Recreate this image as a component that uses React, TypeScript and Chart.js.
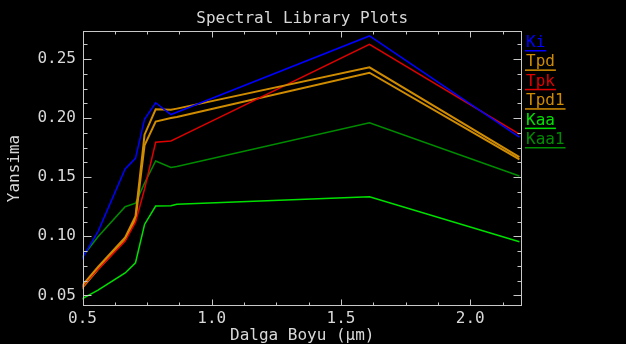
import React, { useEffect, useRef } from 'react';
import { Chart, registerables } from 'chart.js';

Chart.register(...registerables);

// ---- data ----
const wavelengths = [0.49, 0.56, 0.665, 0.705, 0.74, 0.783, 0.842, 0.865, 1.61, 2.19];
const seriesNames = ['Ki', 'Tpd', 'Tpk', 'Tpd1', 'Kaa', 'Kaa1'];
const kiValues = [0.078, 0.104, 0.157, 0.166, 0.199, 0.213, 0.203, 0.205, 0.2695, 0.184];
const tpdValues = [0.056, 0.074, 0.099, 0.117, 0.186, 0.2075, 0.207, 0.208, 0.243, 0.167];
const tpkValues = [0.055, 0.072, 0.096, 0.112, 0.14, 0.1795, 0.1806, 0.183, 0.2624, 0.1865];
const tpd1Values = [0.054, 0.072, 0.097, 0.114, 0.177, 0.197, 0.2, 0.201, 0.2384, 0.165];
const kaaValues = [0.046, 0.0545, 0.069, 0.0776, 0.11, 0.1256, 0.1258, 0.127, 0.1335, 0.0954];
const kaa1Values = [0.08, 0.0996, 0.125, 0.128, 0.145, 0.1637, 0.1583, 0.159, 0.196, 0.151];
const seriesValues = [kiValues, tpdValues, tpkValues, tpd1Values, kaaValues, kaa1Values];
const seriesColors = ['#0000ff', '#d08c00', '#e00000', '#d08c00', '#00e000', '#008c00'];
const xTickValues = [0.5, 1.0, 1.5, 2.0];
const yTickValues = [0.05, 0.1, 0.15, 0.2, 0.25];
const titleText = 'Spectral Library Plots';
const xTitle = 'Dalga Boyu (\u03bcm)';
const yTitle = 'Yansima';

// ---- style ----
const W = 626;
const H = 344;
const FONT = '"DejaVu Sans Mono", monospace';
const TEXT = '#d8d8d8';
const AXIS = '#c8c8c8';

const framePlugin = {
  id: 'idlFrame',
  afterDatasetsDraw(chart: any) {
    const { ctx, chartArea: a, scales } = chart;
    const x = scales.x;
    const y = scales.y;
    const L = Math.round(a.left) + 0.5;
    const R = Math.round(a.right) - 0.5;
    const T = Math.round(a.top) + 0.5;
    const B = Math.round(a.bottom) - 0.5;
    ctx.save();
    ctx.strokeStyle = AXIS;
    ctx.lineWidth = 1;
    ctx.strokeRect(L, T, R - L, B - T);
    ctx.beginPath();
    for (let k = 0; ; k++) {
      const v = 0.5 + k * 0.125;
      if (v > x.max + 1e-9) break;
      const p = Math.round(x.getPixelForValue(v)) + 0.5;
      const len = k % 4 === 0 ? 6 : 3;
      ctx.moveTo(p, B);
      ctx.lineTo(p, B - len);
      ctx.moveTo(p, T);
      ctx.lineTo(p, T + len);
    }
    for (let k = 0; ; k++) {
      const v = 0.05 + k * 0.0125;
      if (v > y.max + 1e-9) break;
      const p = Math.round(y.getPixelForValue(v)) + 0.5;
      const len = k % 4 === 0 ? 8 : 4;
      ctx.moveTo(L, p);
      ctx.lineTo(L + len, p);
      ctx.moveTo(R, p);
      ctx.lineTo(R - len, p);
    }
    ctx.stroke();
    ctx.restore();
  },
};

const legendPlugin = {
  id: 'idlLegend',
  afterDraw(chart: any) {
    const { ctx, chartArea: a } = chart;
    ctx.save();
    ctx.font = `16px ${FONT}`;
    ctx.textBaseline = 'alphabetic';
    ctx.textAlign = 'left';
    chart.data.datasets.forEach((ds: any, i: number) => {
      const bx = a.right + 4;
      const by = 47 + i * 19.4;
      ctx.fillStyle = ds.borderColor;
      ctx.fillText(ds.label, bx, by);
      const w = ctx.measureText(ds.label).width;
      ctx.fillRect(bx - 1, by + 3, w + 2, 1.5);
    });
    ctx.restore();
  },
};

export default function App() {
  const ref = useRef<HTMLCanvasElement | null>(null);

  useEffect(() => {
    if (!ref.current) return;
    const chart = new Chart(ref.current, {
      type: 'scatter',
      data: {
        datasets: seriesNames.map((name, i) => ({
          label: name,
          data: wavelengths.map((w, j) => ({ x: w, y: seriesValues[i][j] })),
          showLine: true,
          borderColor: seriesColors[i],
          backgroundColor: seriesColors[i],
          borderWidth: name.startsWith('Tpd') ? 2 : 1.5,
          pointRadius: 0,
          tension: 0,
        })),
      },
      options: {
        animation: false,
        responsive: false,
        devicePixelRatio: 1,
        layout: { padding: { left: 5, right: W - 522, top: 0, bottom: 0 } },
        plugins: {
          legend: { display: false },
          tooltip: { enabled: false },
          title: {
            display: true,
            text: titleText,
            color: TEXT,
            fullSize: false,
            font: { family: FONT, size: 16, weight: 'normal' },
            padding: { top: 9, bottom: 2.8 },
          },
        },
        scales: {
          x: {
            type: 'linear',
            min: 0.5,
            max: 2.2,
            grid: { display: false, drawTicks: false },
            border: { display: false },
            afterBuildTicks: (s: any) => {
              s.ticks = xTickValues.map((v) => ({ value: v }));
            },
            afterFit: (s: any) => {
              s.height = H - 306;
            },
            ticks: {
              color: TEXT,
              font: { family: FONT, size: 16 },
              padding: 3.4,
              autoSkip: false,
              maxRotation: 0,
              callback: (v: any) => Number(v).toFixed(1),
            },
            title: {
              display: true,
              text: xTitle,
              color: TEXT,
              font: { family: FONT, size: 16, lineHeight: 1 },
              padding: { top: 0, bottom: 0 },
            },
          },
          y: {
            type: 'linear',
            min: 0.041,
            max: 0.2737,
            grid: { display: false, drawTicks: false },
            border: { display: false },
            afterBuildTicks: (s: any) => {
              s.ticks = yTickValues.map((v) => ({ value: v }));
            },
            afterFit: (s: any) => {
              s.width = 82.5 - 5;
            },
            ticks: {
              color: TEXT,
              font: { family: FONT, size: 16 },
              padding: 6.5,
              autoSkip: false,
              callback: (v: any) => Number(v).toFixed(2),
            },
            title: {
              display: true,
              text: yTitle,
              color: TEXT,
              font: { family: FONT, size: 16 },
              padding: { top: 0, bottom: 0 },
            },
          },
        },
      } as any,
      plugins: [framePlugin, legendPlugin],
    });
    return () => chart.destroy();
  }, []);

  return (
    <div style={{ position: 'fixed', left: 0, top: 0, width: W, height: H, background: '#000' }}>
      <canvas ref={ref} width={W} height={H} style={{ width: W, height: H, display: 'block' }} />
    </div>
  );
}
